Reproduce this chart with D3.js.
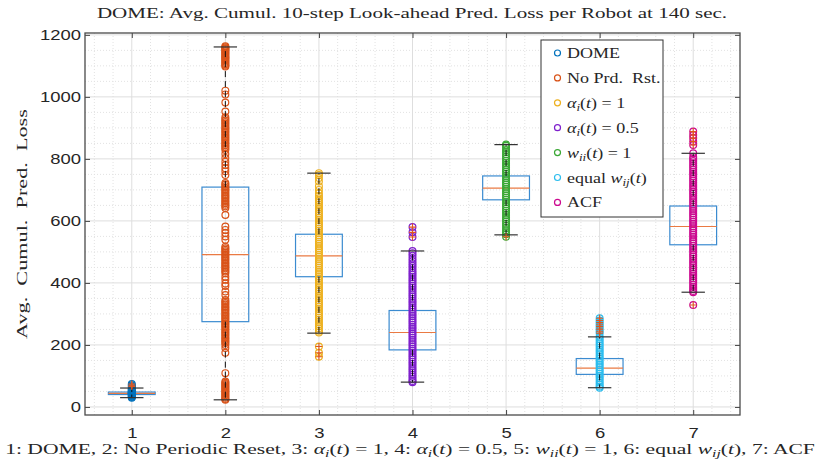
<!DOCTYPE html>
<html>
<head>
<meta charset="utf-8">
<script src="https://cdn.jsdelivr.net/npm/d3@7"></script>
<style>
  body { margin: 0; background: #fff; }
  svg { display: block; }
  text { white-space: pre; }
</style>
</head>
<body>
<svg id="chart" width="819" height="460"></svg>
<script>
// ---- data -------------------------------------------------------------
const groups = [1, 2, 3, 4, 5, 6, 7];
const yTicks = [0, 200, 400, 600, 800, 1000, 1200];

// box statistics per group
const q1          = [40, 275, 420, 184, 668, 105, 523];
const median      = [44, 491, 487, 240, 706, 125, 582];
const q3          = [48, 709, 557, 311, 745, 156, 648];
const whiskerLow  = [30, 23, 238, 80, 555, 62, 370];
const whiskerHigh = [61, 1161, 754, 503, 846, 226, 818];
const outliers = [
  [66, 70, 74],
  [],
  [195, 175, 162],
  [580, 563, 548],
  [549],
  [286, 279, 272, 265, 259, 251, 244, 238],
  [888, 877, 867, 856, 845, 329]
];

// per-robot losses, one list per method
const pointsDOME = [30,32,34,36,38,40,41,42,43,44,45,46,47,48,50,52,54,56,58,61,66,70,74];
const pointsNoReset = [
  1163,1160,1157,1154,1150,1147,1143,1140,1136,1132,1128,1125,1121,1117,1113,1109,1105,1101,1098,
  1020,1008,982,953,
  934,929,924,919,914,909,904,899,894,889,884,879,874,869,864,859,854,849,844,839,834,829,
  816,803,791,780,770,760,748,
  722,717,712,707,702,697,692,687,682,677,672,667,662,657,652,647,642,
  619,582,571,561,550,539,
  517,512,507,502,497,492,487,482,477,472,467,462,457,452,447,442,437,431,
  420,410,398,390,372,361,
  345,340,335,330,325,320,315,310,305,300,295,290,285,280,275,270,265,260,255,250,245,240,235,230,225,220,215,210,206,
  200,190,175,109,
  82,78,74,70,66,62,58,54,50,46,42,38,34,30,26,23
];
const pointsAlpha1 = [
  754,748,738,727,712,700,689,680,673,666,659,652,645,638,631,624,617,610,603,596,589,582,575,568,561,554,
  547,540,533,526,519,512,505,498,491,484,477,470,463,456,449,442,435,428,421,414,407,400,393,386,379,372,
  365,358,351,344,337,330,323,316,309,302,295,288,281,274,267,260,253,246,240,195,175,162
];
const pointsAlpha05 = [
  580,563,548,503,496,488,479,471,463,455,448,440,433,426,419,412,405,398,391,384,377,370,363,356,349,342,
  335,328,321,314,307,300,293,286,279,272,265,258,251,244,237,230,223,216,209,202,195,188,181,174,167,160,
  153,146,139,132,125,118,111,104,97,90,84,80
];
const pointsWii = [
  846,842,836,829,822,815,808,801,794,787,780,773,766,759,752,745,738,731,724,717,710,703,696,689,682,675,
  668,661,654,647,640,633,626,619,612,605,598,591,584,577,570,563,557,549
];
const pointsEqualW = [
  286,279,272,265,259,251,244,238,226,219,212,205,198,191,184,177,170,163,156,149,142,135,128,121,114,107,
  100,93,86,79,72,66,62
];
const pointsACF = [
  888,877,867,856,845,818,806,800,793,786,779,772,765,758,751,744,737,730,723,716,709,702,695,688,681,674,
  667,660,653,646,639,632,625,618,611,604,597,590,583,576,569,562,555,548,541,534,527,520,513,506,499,492,
  485,478,471,464,457,450,443,436,429,422,415,408,401,394,387,380,374,370,329
];
const pointSets = [pointsDOME, pointsNoReset, pointsAlpha1, pointsAlpha05, pointsWii, pointsEqualW, pointsACF];

const seriesColors = ["#0072BD", "#D95319", "#EDB120", "#7E1FCC", "#3AA835", "#2CBDEE", "#CC0A90"];

// legend / label text as [string, style] runs: "" upright, "i" italic, "s" italic subscript
const legendLabels = [
  [["DOME", ""]],
  [["No Prd.  Rst.", ""]],
  [["α", "i"], ["i", "s"], ["(", ""], ["t", "i"], [") = 1", ""]],
  [["α", "i"], ["i", "s"], ["(", ""], ["t", "i"], [") = 0.5", ""]],
  [["w", "i"], ["ii", "s"], ["(", ""], ["t", "i"], [") = 1", ""]],
  [["equal ", ""], ["w", "i"], ["ij", "s"], ["(", ""], ["t", "i"], [")", ""]],
  [["ACF", ""]]
];
const titleText = [["DOME: Avg. Cumul. 10-step Look-ahead Pred. Loss per Robot at 140 sec.", ""]];
const yLabelText = [["Avg.  Cumul.  Pred.  Loss", ""]];
const xLabelText = [
  ["1: DOME, 2: No Periodic Reset, 3: ", ""], ["α", "i"], ["i", "s"], ["(", ""], ["t", "i"], [") = 1, 4: ", ""],
  ["α", "i"], ["i", "s"], ["(", ""], ["t", "i"], [") = 0.5, 5: ", ""],
  ["w", "i"], ["ii", "s"], ["(", ""], ["t", "i"], [") = 1, 6: equal ", ""],
  ["w", "i"], ["ij", "s"], ["(", ""], ["t", "i"], ["), 7: ACF", ""]
];

// ---- layout -----------------------------------------------------------
const svg = d3.select("#chart");
const plot = { left: 85, right: 740, top: 33, bottom: 415 };
const serif = "'Liberation Serif', 'Times New Roman', serif";
const sans = "'Liberation Sans', Arial, sans-serif";
const ink = "#262626";

const x = d3.scaleLinear().domain([0.5, 7.5]).range([plot.left, plot.right]);
const y = d3.scaleLinear().domain([-26, 1206]).range([plot.bottom, plot.top]);

// ---- grid -------------------------------------------------------------
const grid = svg.append("g");
const xMinor = x.ticks(35).filter(v => Math.abs(v - Math.round(v)) > 1e-6);
const yMinor = d3.range(0, 1201, 50).filter(v => v % 200 !== 0);
grid.selectAll(".xm").data(xMinor).join("line")
  .attr("x1", d => x(d)).attr("x2", d => x(d)).attr("y1", plot.top).attr("y2", plot.bottom)
  .attr("stroke", "#e2e2e2").attr("stroke-width", 1).attr("stroke-dasharray", "1,2");
grid.selectAll(".ym").data(yMinor).join("line")
  .attr("x1", plot.left).attr("x2", plot.right).attr("y1", d => y(d)).attr("y2", d => y(d))
  .attr("stroke", "#e2e2e2").attr("stroke-width", 1).attr("stroke-dasharray", "1,2");
grid.selectAll(".xM").data(groups).join("line")
  .attr("x1", d => x(d)).attr("x2", d => x(d)).attr("y1", plot.top).attr("y2", plot.bottom)
  .attr("stroke", "#dedede").attr("stroke-width", 1);
grid.selectAll(".yM").data(yTicks).join("line")
  .attr("x1", plot.left).attr("x2", plot.right).attr("y1", d => y(d)).attr("y2", d => y(d))
  .attr("stroke", "#dedede").attr("stroke-width", 1);

// ---- boxes and medians (beneath the points) --------------------------
const boxHalf = (x(1.25) - x(1));
const capHalf = boxHalf / 2;
const boxes = svg.append("g");
groups.forEach((g, i) => {
  boxes.append("rect")
    .attr("x", x(g) - boxHalf).attr("y", y(q3[i]))
    .attr("width", 2 * boxHalf).attr("height", y(q1[i]) - y(q3[i]))
    .attr("fill", "none").attr("stroke", "#3b8bd0").attr("stroke-width", 1.2);
  boxes.append("line")
    .attr("x1", x(g) - boxHalf).attr("x2", x(g) + boxHalf)
    .attr("y1", y(median[i])).attr("y2", y(median[i]))
    .attr("stroke", "#ea7a43").attr("stroke-width", 1.2);
});

// ---- individual robot losses ----------------------------------------
const pts = svg.append("g");
groups.forEach((g, i) => {
  pts.append("g").selectAll("circle").data(pointSets[i]).join("circle")
    .attr("cx", x(g)).attr("cy", d => y(d)).attr("r", 3.4)
    .attr("fill", "none").attr("stroke", seriesColors[i]).attr("stroke-width", 1.2);
});

// ---- whiskers, caps and outlier crosses -------------------------------
const whisk = svg.append("g");
groups.forEach((g, i) => {
  [[q3[i], whiskerHigh[i]], [q1[i], whiskerLow[i]]].forEach(([a, b]) => {
    whisk.append("line")
      .attr("x1", x(g)).attr("x2", x(g)).attr("y1", y(a)).attr("y2", y(b))
      .attr("stroke", "#111").attr("stroke-width", 1).attr("stroke-dasharray", "6,4");
    whisk.append("line")
      .attr("x1", x(g) - capHalf).attr("x2", x(g) + capHalf).attr("y1", y(b)).attr("y2", y(b))
      .attr("stroke", "#333").attr("stroke-width", 1.2);
  });
  whisk.append("g").selectAll("path").data(outliers[i]).join("path")
    .attr("d", d => `M${x(g) - 3.5},${y(d)}h7M${x(g)},${y(d) - 3.5}v7`)
    .attr("stroke", "#E0561E").attr("stroke-width", 1.1).attr("fill", "none");
});

// ---- axes --------------------------------------------------------------
const tickScale = 1.23;
const axL = svg.append("g").attr("transform", `translate(${plot.left},0)`)
  .call(d3.axisLeft(y).tickValues(yTicks).tickSize(-5).tickPadding(4 / tickScale).tickFormat(d3.format("d")));
axL.selectAll("text").attr("transform", `scale(${tickScale},1)`);
const axR = svg.append("g").attr("transform", `translate(${plot.right},0)`)
  .call(d3.axisRight(y).tickValues(yTicks).tickSize(-5).tickFormat(""));
const axB = svg.append("g").attr("transform", `translate(0,${plot.bottom})`)
  .call(d3.axisBottom(x).tickValues(groups).tickSize(-5).tickFormat(d3.format("d")));
axB.selectAll("text").attr("y", 23).attr("dy", null)
  .attr("transform", `scale(${tickScale},1)`);
const axT = svg.append("g").attr("transform", `translate(0,${plot.top})`)
  .call(d3.axisTop(x).tickValues(groups).tickSize(-5).tickFormat(""));
[axL, axR, axB, axT].forEach(a => {
  a.select(".domain").remove();
  a.selectAll("line").attr("stroke", "#444").attr("stroke-width", 1);
  a.selectAll("text").attr("font-family", sans).attr("font-size", 15).attr("fill", ink);
});
svg.append("rect")
  .attr("x", plot.left).attr("y", plot.top)
  .attr("width", plot.right - plot.left).attr("height", plot.bottom - plot.top)
  .attr("fill", "none").attr("stroke", "#4a4a4a").attr("stroke-width", 1.3);

// ---- text helpers -----------------------------------------------------
function richText(parent, runs, fs) {
  const t = parent.append("text").attr("font-family", serif).attr("font-size", fs).attr("fill", ink);
  let inSub = false;
  runs.forEach(([s, st]) => {
    const ts = t.append("tspan").text(s).attr("font-family", serif);
    if (st === "i" || st === "s") ts.attr("font-style", "italic");
    if (st === "s") {
      ts.attr("font-size", fs * 0.72);
      if (!inSub) { ts.attr("dy", fs * 0.2); inSub = true; }
    } else if (inSub) {
      ts.attr("dy", -fs * 0.2); inSub = false;
    }
  });
  return t;
}
// place text so its drawn width equals targetWidth (centered at cx)
function fitted(runs, fs, cx, by, targetWidth, rotate) {
  const g = svg.append("g");
  const t = richText(g, runs, fs).attr("text-anchor", "middle");
  const sx = targetWidth / t.node().getComputedTextLength();
  g.attr("transform", `translate(${cx},${by})${rotate ? " rotate(-90)" : ""} scale(${sx},1)`);
  return g;
}

fitted(titleText, 15, 412, 18, 631, false);
fitted(xLabelText, 15, 410, 454, 810, false);
fitted(yLabelText, 15, 27, 224, 230, true);

// ---- legend -------------------------------------------------------------
const lg = svg.append("g");
lg.append("rect").attr("x", 541).attr("y", 40).attr("width", 122).attr("height", 177)
  .attr("fill", "#fff").attr("stroke", "#333").attr("stroke-width", 1);
legendLabels.forEach((runs, i) => {
  const cy = 53 + i * 24.9;
  lg.append("circle").attr("cx", 557.5).attr("cy", cy).attr("r", 3)
    .attr("fill", "none").attr("stroke", seriesColors[i]).attr("stroke-width", 1.2);
  const row = lg.append("g").attr("transform", `translate(567,${cy + 5}) scale(1.2,1)`);
  richText(row, runs, 15);
});
</script>
</body>
</html>
